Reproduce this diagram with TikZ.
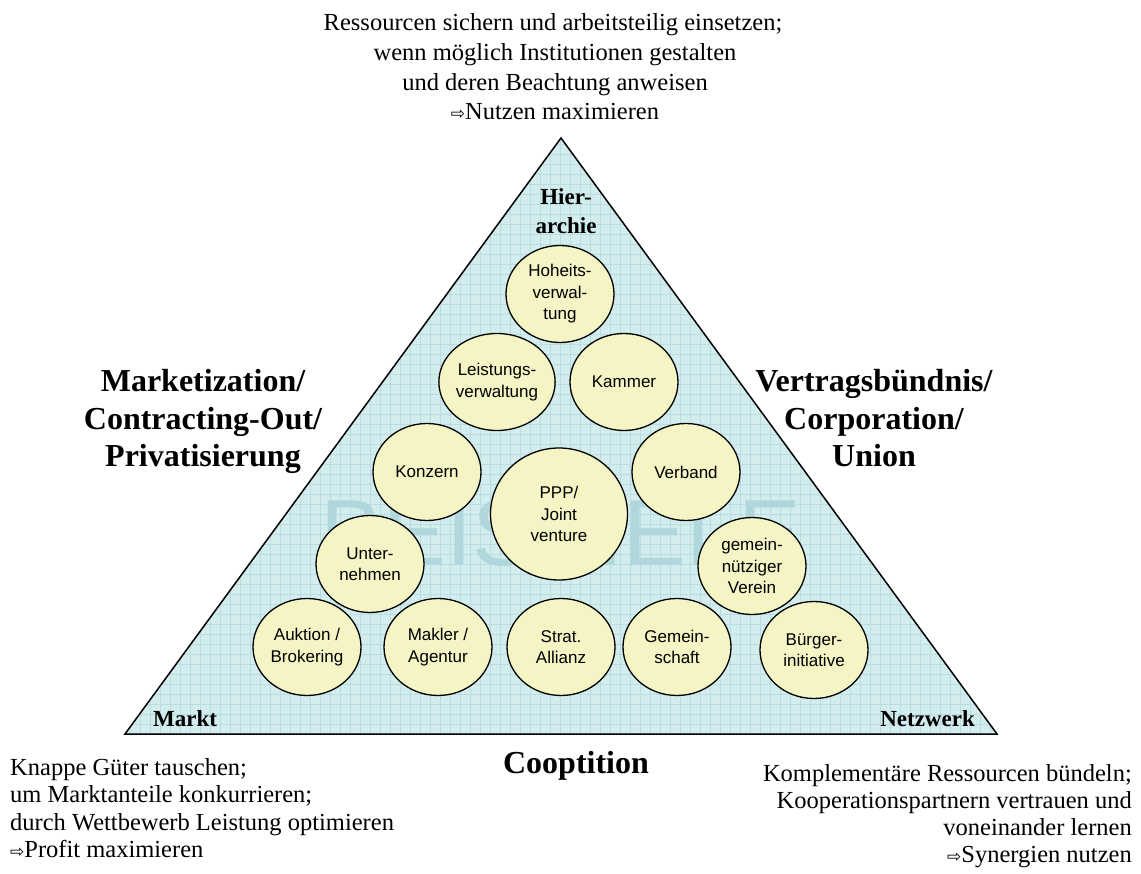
\documentclass[tikz,border=0pt]{standalone}
\usepackage{fontspec}
\setmainfont{Liberation Serif}
\setsansfont{Liberation Sans}
\newfontfamily\arrowfont{DejaVu Sans}
\usetikzlibrary{shapes.geometric}

\definecolor{pyrfill}{RGB}{211,236,238}
\definecolor{pyrgrid}{RGB}{186,221,225}
\definecolor{cellfill}{RGB}{244,244,196}
\definecolor{watermark}{RGB}{176,215,220}

\newcommand{\resultarrow}{{\arrowfont\fontsize{17}{17}\selectfont ⇨}}

\tikzset{
  cell/.style={ellipse, draw=black, line width=1.3pt, fill=cellfill,
    minimum width=108pt, minimum height=97pt, inner sep=0pt, align=center,
    font=\sffamily\fontsize{17}{21.5}\selectfont},
  bigcell/.style={cell, minimum width=137pt, minimum height=132pt},
  goal/.style={font=\fontsize{24.5}{28}\selectfont, inner sep=0pt, anchor=base},
  corner/.style={font=\bfseries\fontsize{23}{28}\selectfont, inner sep=0pt, anchor=base},
  side/.style={font=\bfseries\fontsize{32}{36}\selectfont, inner sep=0pt, anchor=base},
}

\begin{document}
\begin{tikzpicture}[x=1pt,y=-1pt]
\useasboundingbox (0,0) rectangle (1141,874);

% pyramid body with its fine grid
\coordinate (apex) at (561,138);
\coordinate (bl) at (125,734);
\coordinate (br) at (997,734);
\fill[pyrfill] (apex) -- (bl) -- (br) -- cycle;
\begin{scope}
  \clip (apex) -- (bl) -- (br) -- cycle;
  \foreach \gx in {120,130,...,1000} \draw[pyrgrid, line width=0.8pt] (\gx,130) -- (\gx,740);
  \foreach \gy in {134,144,...,740} \draw[pyrgrid, line width=0.8pt] (120,\gy) -- (1000,\gy);
  \node[text=watermark, font=\sffamily\fontsize{94}{94}\selectfont, inner sep=0pt] (wm) at (561,533) {BEISPIELE};
\end{scope}
\draw[line width=1.5pt, line join=miter] (apex) -- (bl) -- (br) -- cycle;

% corner labels
\node[corner] (hier1) at (566,205) {Hier-};
\node[corner] (hier2) at (566,234) {archie};
\node[corner, anchor=base west] (markt) at (153,726) {Markt};
\node[corner, anchor=base east] (netz) at (975,726) {Netzwerk};

% examples
\node[cell] (hoheit) at (560,294) {Hoheits-\\verwal-\\tung};
\node[cell] (leist) at (497,382) {Leistungs-\\verwaltung};
\node[cell] (kammer) at (624,382) {Kammer};
\node[cell] (konzern) at (427,472) {Konzern};
\node[cell] (verband) at (686,472) {Verband};
\node[bigcell] (ppp) at (559,514) {PPP/\\Joint\\venture};
\node[cell] (untern) at (370,564) {Unter-\\nehmen};
\node[cell] (verein) at (752,566) {gemein-\\nütziger\\Verein};
\node[cell] (auktion) at (307,647) {Auktion /\\Brokering};
\node[cell] (makler) at (438,647) {Makler /\\Agentur};
\node[cell] (strat) at (561,647) {Strat.\\Allianz};
\node[cell] (gemein) at (677,647) {Gemein-\\schaft};
\node[cell] (buerger) at (814,650) {Bürger-\\initiative};

% side labels
\node[side] (ml1) at (203,392) {Marketization/};
\node[side] (ml2) at (203,430) {Contracting-Out/};
\node[side] (ml3) at (203,467) {Privatisierung};
\node[side] (vl1) at (874,392) {Vertragsbündnis/};
\node[side] (vl2) at (874,430) {Corporation/};
\node[side] (vl3) at (874,467) {Union};
\node[side] (coop) at (576,773) {Cooptition};

% hierarchy goal
\node[goal] (h1) at (553,31) {Ressourcen sichern und arbeitsteilig einsetzen;};
\node[goal] (h2) at (555,61) {wenn möglich Institutionen gestalten};
\node[goal] (h3) at (555,91) {und deren Beachtung anweisen};
\node[goal] (h4) at (555,120) {\resultarrow Nutzen maximieren};

% market goal
\node[goal, anchor=base west] (m1) at (10,775) {Knappe Güter tauschen;};
\node[goal, anchor=base west] (m2) at (10,802.5) {um Marktanteile konkurrieren;};
\node[goal, anchor=base west] (m3) at (10,830) {durch Wettbewerb Leistung optimieren};
\node[goal, anchor=base west] (m4) at (10,857.5) {\resultarrow Profit maximieren};

% network goal
\node[goal, anchor=base east] (n1) at (1132,781) {Komplementäre Ressourcen bündeln;};
\node[goal, anchor=base east] (n2) at (1132,808) {Kooperationspartnern vertrauen und};
\node[goal, anchor=base east] (n3) at (1132,835) {voneinander lernen};
\node[goal, anchor=base east] (n4) at (1132,862) {\resultarrow Synergien nutzen};
\end{tikzpicture}
\end{document}
